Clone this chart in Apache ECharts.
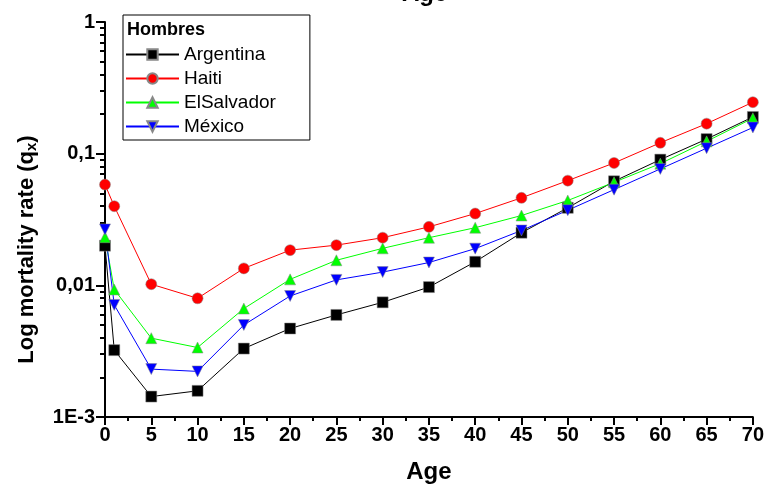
<!DOCTYPE html>
<html>
<head>
<meta charset="utf-8">
<script src="https://cdn.jsdelivr.net/npm/echarts@6/dist/echarts.min.js"></script>
<style>
  html, body { margin: 0; padding: 0; background: #fff; }
  #chart { width: 767px; height: 489px; }
</style>
</head>
<body>
<div id="chart"></div>
<script>
// edades (eje x)
const ages = [0, 1, 5, 10, 15, 20, 25, 30, 35, 40, 45, 50, 55, 60, 65, 70];

// tasas de mortalidad qx, hombres
const argentina = [0.0200, 0.00322, 0.00143, 0.00158, 0.00331, 0.0047, 0.00596, 0.00743, 0.0097, 0.0151, 0.0251, 0.0388, 0.0617, 0.0901, 0.129, 0.19];
const haiti = [0.0582, 0.0399, 0.0102, 0.00797, 0.01345, 0.0185, 0.0202, 0.023, 0.0278, 0.0351, 0.0462, 0.0624, 0.085, 0.121, 0.169, 0.246];
const elSalvador = [0.0232, 0.0093, 0.00397, 0.00337, 0.00666, 0.0111, 0.0155, 0.0191, 0.023, 0.0274, 0.0339, 0.0441, 0.0606, 0.084, 0.124, 0.186];
const mexico = [0.0266, 0.0071, 0.00231, 0.00222, 0.0050, 0.0083, 0.011, 0.0126, 0.0149, 0.019, 0.0261, 0.0372, 0.0533, 0.0766, 0.110, 0.158];

// etiquetas del eje y
const yTickValues = [0.001, 0.01, 0.1, 1];
const yTickLabels = ['1E-3', '0,01', '0,1', '1'];
const yMinorTicks = [];
for (let d of [0.001, 0.01, 0.1]) {
    for (let k = 2; k <= 9; k++) yMinorTicks.push(+(d * k).toPrecision(3));
}

const pairs = vals => ages.map((a, i) => [a, vals[i]]);

const FONT = '"Liberation Sans", Arial, sans-serif';
const downTri = 'path://M0,0L2,0L1,1.8Z';

function mkSeries(name, vals, color, symbol) {
    return {
        name: name,
        type: 'line',
        data: pairs(vals),
        symbol: symbol,
        symbolSize: 11,
        clip: false,
        lineStyle: { color: color, width: 1 },
        itemStyle: { color: color, borderColor: '#888', borderWidth: 0.5 },
        emphasis: { disabled: true }
    };
}

const myChart = echarts.init(document.getElementById('chart'));
const option = {
    animation: false,
    backgroundColor: '#fff',
    title: [
        {
            text: 'Age',
            left: 402,
            top: -18,
            padding: 0,
            textStyle: { fontFamily: FONT, fontWeight: 'bold', fontSize: 24, color: '#000' }
        },
        {
            text: 'Hombres',
            left: 127,
            top: 21,
            padding: 0,
            textStyle: { fontFamily: FONT, fontWeight: 'bold', fontSize: 18, color: '#000' }
        }
    ],
    legend: {
        orient: 'vertical',
        left: 123,
        top: 15,
        padding: [30, 34, 4, 2],
        itemGap: 5,
        itemWidth: 53,
        itemHeight: 13,
        borderColor: '#000',
        borderWidth: 1,
        textStyle: { fontFamily: FONT, fontSize: 19, color: '#000' },
        data: ['Argentina', 'Haiti', 'ElSalvador', 'México']
    },
    grid: { left: 105, right: 14, top: 22, bottom: 71 },
    xAxis: {
        type: 'value',
        min: 0,
        max: 70,
        interval: 5,
        name: 'Age',
        nameLocation: 'middle',
        nameGap: 43,
        nameTextStyle: { fontFamily: FONT, fontWeight: 'bold', fontSize: 24, color: '#000' },
        axisLine: { lineStyle: { color: '#000', width: 2 } },
        axisTick: { inside: false, length: 8, lineStyle: { color: '#000', width: 2 } },
        minorTick: { show: true, splitNumber: 2, length: 4, lineStyle: { color: '#000', width: 2 } },
        axisLabel: { fontFamily: FONT, fontWeight: 'bold', fontSize: 20, color: '#000', margin: 8 },
        splitLine: { show: false }
    },
    yAxis: [
        {
            type: 'log',
            min: 0.001,
            max: 1,
            logBase: 10,
            name: 'Log mortality rate (q{sub|x})',
            nameLocation: 'middle',
            nameGap: 66,
            nameTextStyle: {
                fontFamily: FONT, fontWeight: 'bold', fontSize: 22, color: '#000',
                padding: [0, 60, 0, 0],
                rich: { sub: { fontFamily: FONT, fontWeight: 'bold', fontSize: 15, color: '#000', verticalAlign: 'bottom', padding: [9, 0, 0, 0] } }
            },
            axisLine: { lineStyle: { color: '#000', width: 2 } },
            axisTick: { inside: false, length: 9, lineStyle: { color: '#000', width: 2 } },
            axisLabel: {
                fontFamily: FONT, fontWeight: 'bold', fontSize: 20, color: '#000', margin: 10,
                formatter: v => {
                    const i = yTickValues.findIndex(t => Math.abs(Math.log10(t) - Math.log10(v)) < 1e-6);
                    return i >= 0 ? yTickLabels[i] : '';
                }
            },
            splitLine: { show: false }
        },
        {
            type: 'log',
            min: 0.001,
            max: 1,
            logBase: 10,
            position: 'left',
            axisLine: { show: false },
            axisTick: { inside: false, length: 5, customValues: yMinorTicks, lineStyle: { color: '#000', width: 2 } },
            axisLabel: { show: false },
            splitLine: { show: false }
        }
    ],
    series: [
        mkSeries('Argentina', argentina, '#000000', 'rect'),
        mkSeries('Haiti', haiti, '#ff0000', 'circle'),
        mkSeries('ElSalvador', elSalvador, '#00ff00', 'triangle'),
        mkSeries('México', mexico, '#0000ff', downTri)
    ]
};
myChart.setOption(option);
</script>
</body>
</html>
